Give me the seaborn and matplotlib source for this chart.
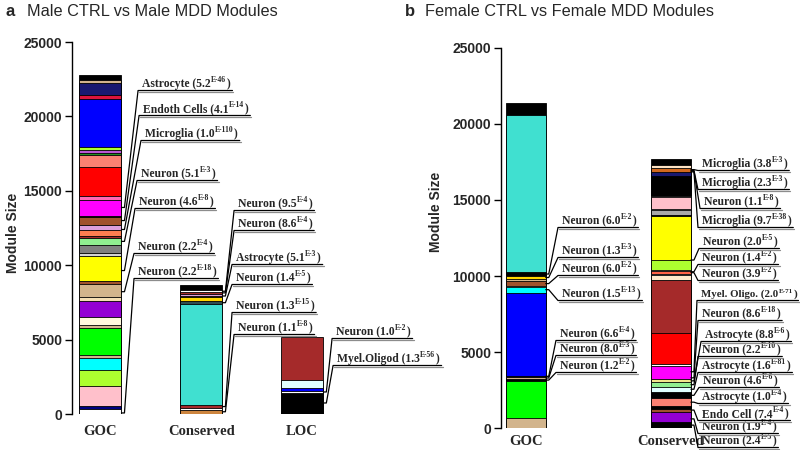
import numpy as np
import matplotlib
matplotlib.use("Agg")
import matplotlib.pyplot as plt
import seaborn as sns
from matplotlib import transforms

# ---------------- data ----------------
cats_a = ["GOC", "Conserved", "LOC"]
cats_b = ["GOC", "Conserved"]

# module sizes per stacked segment, bottom -> top
a_goc_sizes = [315, 250, 1350, 1010, 810, 225, 1800, 225, 540, 1080, 225, 900, 180, 1730,
               180, 560, 430, 135, 430, 360, 495, 110, 1010, 270, 1980, 790, 180, 160, 180,
               3230, 290, 830, 180, 340]
a_goc_colors = ["white", "navy", "pink", "greenyellow", "cyan", "tan", "lime", "tan", "cornsilk",
                "darkviolet", "wheat", "tan", "sienna", "yellow", "lightgrey", "grey", "lightgreen",
                "brown", "coral", "plum", "sienna", "black", "magenta", "hotpink", "red", "salmon",
                "forestgreen", "mediumorchid", "greenyellow", "blue", "crimson", "midnightblue",
                "tan", "black"]
a_con_sizes = [292, 90, 225, 6790, 180, 315, 70, 135, 90, 135, 380]
a_con_colors = ["peru", "white", "brown", "turquoise", "darkslategrey", "gold", "saddlebrown",
                "plum", "brown", "white", "black"]
a_loc_sizes = [1415, 160, 180, 560, 2850]
a_loc_colors = ["black", "white", "blue", "lightcyan", "brown"]

b_goc_sizes = [660, 2410, 150, 130, 90, 5440, 370, 110, 285, 150, 220, 240, 10350, 770]
b_goc_colors = ["tan", "lime", "black", "tan", "black", "blue", "cyan", "white", "sienna", "tan",
                "gold", "black", "turquoise", "black"]
b_con_sizes = [373, 658, 219, 175, 548, 395, 329, 307, 219, 877, 132, 2018, 3509, 285, 88, 175,
               110, 658, 2851, 110, 329, 66, 746, 66, 1316, 307, 241, 175, 439]
b_con_colors = ["black", "darkviolet", "sienna", "black", "salmon", "black", "lightcyan",
                "lightgreen", "khaki", "magenta", "white", "red", "brown", "blanchedalmond", "white",
                "tomato", "white", "greenyellow", "yellow", "black", "darkgrey", "white", "pink",
                "white", "black", "midnightblue", "chocolate", "bisque", "black"]

# enrichment labels: text, exponent, module size the label points to
a_goc_text = ["Astrocyte (5.2", "Endoth Cells (4.1", "Microglia (1.0", "Neuron (5.1",
              "Neuron (4.6", "Neuron (2.2", "Neuron (2.2"]
a_goc_exp = ["E-46", "E-14", "E-110", "E-3", "E-8", "E-4", "E-18"]
a_goc_target = [13880, 13000, 12400, 11600, 9640, 8220, 70]

a_con_text = ["Neuron (9.5", "Neuron (8.6", "Astrocyte (5.1", "Neuron (1.4", "Neuron (1.3",
              "Neuron (1.1"]
a_con_exp = ["E-4", "E-4", "E-3", "E-5", "E-15", "E-8"]
a_con_target = [8250, 8140, 7930, 7480, 500, 150]

a_loc_text = ["Neuron (1.0", "Myel.Oligod (1.3"]
a_loc_exp = ["E-2", "E-56"]
a_loc_target = [1480, 740]

b_goc_text = ["Neuron (6.0", "Neuron (1.3", "Neuron (6.0", "Neuron (1.5", "Neuron (6.6",
              "Neuron (8.0", "Neuron (1.2"]
b_goc_exp = ["E-2", "E-3", "E-2", "E-13", "E-4", "E-3", "E-2"]
b_goc_target = [10130, 9900, 9500, 9100, 3400, 3290, 3150]

b_con_text = ["Microglia (3.8", "Microglia (2.3", "Neuron (1.1", "Microglia (9.7", "Neuron (2.0",
              "Neuron (1.4", "Neuron (3.9", "Myel. Oligo. (2.0", "Neuron (8.6", "Astrocyte (8.8",
              "Neuron (2.2", "Astrocyte (1.6", "Neuron (4.6", "Astrocyte (1.0", "Endo Cell (7.4",
              "Neuron (1.9", "Neuron (2.4"]
b_con_exp = ["E-3", "E-3", "E-8", "E-38", "E-5", "E-2", "E-2", "E-71", "E-18", "E-6", "E-10",
             "E-81", "E-6", "E-4", "E-4", "E-4", "E-5"]
b_con_target = [17000, 16950, 16900, 16850, 11050, 10280, 10220, 3700, 3300, 3100, 2850, 2550,
                2150, 1700, 1180, 600, 190]

yticks = [0, 5000, 10000, 15000, 20000, 25000]

# ---------------- layout (label anchor positions) ----------------
a_goc_pos = [(0.414, 21975), (0.424, 20296), (0.443, 18615), (0.404, 15927), (0.384, 14046),
             (0.374, 11022), (0.374, 9341)]
a_con_pos = [(1.365, 13911), (1.365, 12567), (1.345, 10282), (1.345, 8938), (1.345, 7056),
             (1.365, 5578)]
a_loc_pos = [(2.336, 5309), (2.346, 3495)]
b_goc_pos = [(0.250, 13421), (0.250, 11447), (0.250, 10263), (0.250, 8618), (0.236, 5987),
             (0.236, 5000), (0.236, 3882)]
b_con_pos = [(1.214, 17171), (1.214, 15921), (1.228, 14671), (1.214, 13421), (1.221, 12039),
             (1.214, 10987), (1.214, 9934), (1.207, 8618), (1.214, 7303), (1.235, 5921),
             (1.214, 4934), (1.214, 3882), (1.221, 2895), (1.214, 1842), (1.214, 724),
             (1.214, -132), (1.214, -1053)]

sns.set_style("ticks")
plt.rcParams["font.family"] = ["Liberation Sans", "DejaVu Sans"]

fig = plt.figure(figsize=(8, 4.5), dpi=100)
ax_a = fig.add_axes([72 / 800, 1 - 414 / 450, 321 / 800, 372 / 450])
ax_b = fig.add_axes([501 / 800, 1 - 428 / 450, 289 / 800, 380 / 450])

W_A, W_B = 0.42, 0.276


def draw_stack(ax, cats, cat, sizes, colors, width):
    tops = np.cumsum(sizes)
    for top, col in zip(tops[::-1], colors[::-1]):
        sns.barplot(x=[cat], y=[top], order=cats, color=col, width=width, saturation=1,
                    edgecolor="black", linewidth=0.6, errorbar=None, ax=ax)


draw_stack(ax_a, cats_a, "GOC", a_goc_sizes, a_goc_colors, W_A)
draw_stack(ax_a, cats_a, "Conserved", a_con_sizes, a_con_colors, W_A)
draw_stack(ax_a, cats_a, "LOC", a_loc_sizes, a_loc_colors, W_A)
draw_stack(ax_b, cats_b, "GOC", b_goc_sizes, b_goc_colors, W_B)
draw_stack(ax_b, cats_b, "Conserved", b_con_sizes, b_con_colors, W_B)

serif_b = dict(fontfamily=["Liberation Serif", "DejaVu Serif"], fontweight="bold")
sans_b = dict(fontfamily=["Liberation Sans", "DejaVu Sans"], fontweight="bold")

for ax, xl, pad in ((ax_a, (-0.28, 2.9), 8), (ax_b, (-0.17, 1.82), 5)):
    ax.set_xlim(*xl)
    ax.set_ylim(0, 25000)
    ax.set_yticks(yticks)
    ax.set_yticklabels([str(v) for v in yticks], fontsize=10, **sans_b)
    for lab in ax.get_xticklabels():
        lab.set_fontsize(10.5)
        lab.set_fontfamily(["Liberation Serif", "DejaVu Serif"])
        lab.set_fontweight("bold")
    ax.set_xlabel("")
    ax.set_ylabel("Module Size", fontsize=10, **sans_b)
    ax.tick_params(axis="x", length=0, pad=pad)
    ax.tick_params(axis="y", length=5, width=1, color="black", pad=2)
    sns.despine(ax=ax, bottom=True)
    ax.spines["left"].set_color("black")
    ax.spines["left"].set_linewidth(1.0)
    ax.set_facecolor("white")

ax_a.yaxis.set_label_coords(-0.162, 0.488)
ax_b.yaxis.set_label_coords(-0.20, 0.568)

fig.text(5 / 800, 1 - 11 / 450, "a", fontsize=12, va="center", ha="left", **sans_b)
fig.text(27 / 800, 1 - 11 / 450, "Male CTRL vs Male MDD Modules", fontsize=11.7, va="center",
         ha="left", fontfamily=["Liberation Sans", "DejaVu Sans"])
fig.text(405 / 800, 1 - 11 / 450, "b", fontsize=12, va="center", ha="left", **sans_b)
fig.text(425 / 800, 1 - 11 / 450, "Female CTRL vs Female MDD Modules", fontsize=11.7,
         va="center", ha="left", fontfamily=["Liberation Sans", "DejaVu Sans"])

renderer = fig.canvas.get_renderer()
FS = 8.4
SUP = 0.66
FIG_W = 800


def place_text(ax, lx, ly, base, ex, fs):
    t1 = ax.text(lx, ly, base, fontsize=fs, va="baseline", ha="left", clip_on=False, **serif_b)
    w1 = t1.get_window_extent(renderer).width
    tr2 = transforms.offset_copy(ax.transData, fig=fig, x=w1 + 0.3, y=fs * 0.55, units="dots")
    t2 = ax.text(lx, ly, ex, transform=tr2, fontsize=fs * SUP, va="baseline", ha="left",
                 clip_on=False, **serif_b)
    w2 = t2.get_window_extent(renderer).width
    tr3 = transforms.offset_copy(ax.transData, fig=fig, x=w1 + w2 + 0.8, y=0, units="dots")
    t3 = ax.text(lx, ly, ")", transform=tr3, fontsize=fs, va="baseline", ha="left",
                 clip_on=False, **serif_b)
    w3 = t3.get_window_extent(renderer).width
    return [t1, t2, t3], w1 + w2 + w3 + 0.8


def add_labels(ax, idx, width, texts, exps, targets, positions):
    inv = ax.transData.inverted()
    bar_right = idx + width / 2
    for base, ex, tgt, (lx, ly) in zip(texts, exps, targets, positions):
        X0, Y0 = ax.transData.transform((lx, ly))
        arts, total = place_text(ax, lx, ly, base, ex, FS)
        if X0 + total + 4 > FIG_W:
            for a in arts:
                a.remove()
            fs = FS * (FIG_W - 4 - X0) / total
            arts, total = place_text(ax, lx, ly, base, ex, fs)
        bx, by = ax.transData.transform((bar_right, tgt))
        right = min(X0 + total + 2, FIG_W - 1.5)
        pts = np.array([(bx, by), (bx + 3, by), (X0 - 4, Y0 - 3.5), (right, Y0 - 3.5)])
        shadow = np.array([(X0 - 3, Y0 - 5), (min(right + 1, FIG_W - 0.5), Y0 - 5)])
        d = inv.transform(pts)
        s = inv.transform(shadow)
        ax.plot(s[:, 0], s[:, 1], color="0.55", lw=0.9, clip_on=False, zorder=4)
        ax.plot(d[:, 0], d[:, 1], color="black", lw=0.9, clip_on=False, zorder=5)


add_labels(ax_a, 0, W_A, a_goc_text, a_goc_exp, a_goc_target, a_goc_pos)
add_labels(ax_a, 1, W_A, a_con_text, a_con_exp, a_con_target, a_con_pos)
add_labels(ax_a, 2, W_A, a_loc_text, a_loc_exp, a_loc_target, a_loc_pos)
add_labels(ax_b, 0, W_B, b_goc_text, b_goc_exp, b_goc_target, b_goc_pos)
add_labels(ax_b, 1, W_B, b_con_text, b_con_exp, b_con_target, b_con_pos)

fig.savefig("out.png", dpi=100, facecolor="white")
